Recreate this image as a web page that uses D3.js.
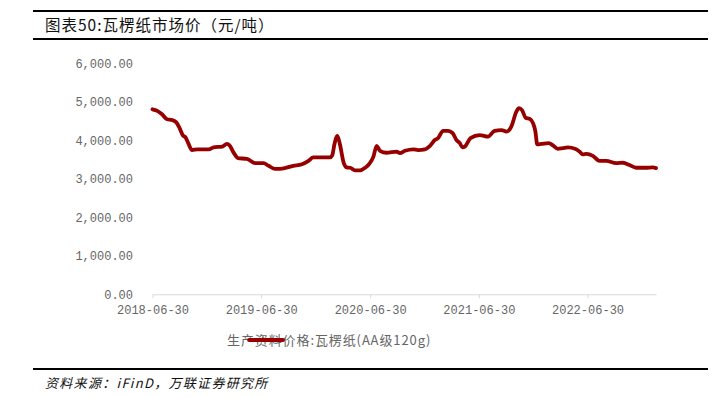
<!DOCTYPE html>
<html>
<head>
<meta charset="utf-8">
<script src="https://cdn.jsdelivr.net/npm/d3@7"></script>
<style>
  body { margin: 0; background: #fff; }
  svg { display: block; }
</style>
</head>
<body>
<svg width="720" height="397"></svg>
<script>
// 瓦楞纸(AA级120g) 价格，元/吨
var dates = [
  "2018-06-30","2018-07-16","2018-08-01","2018-08-18","2018-09-04","2018-09-18","2018-09-29","2018-10-10",
  "2018-10-19","2018-10-28","2018-11-10","2018-11-27","2019-01-05","2019-01-21","2019-02-19","2019-03-07",
  "2019-03-16","2019-03-29","2019-04-13","2019-05-13","2019-06-10","2019-07-08","2019-07-25","2019-08-16",
  "2019-09-02","2019-10-16","2019-11-14","2019-12-06","2019-12-22","2020-02-16","2020-02-24","2020-03-02",
  "2020-03-12","2020-03-21","2020-04-01","2020-04-12","2020-04-24","2020-05-10","2020-05-27","2020-06-13",
  "2020-06-29","2020-07-11","2020-07-22","2020-08-02","2020-08-24","2020-09-27","2020-10-08","2020-10-25",
  "2020-11-22","2020-12-08","2020-12-31","2021-01-17","2021-02-02","2021-02-13","2021-03-02","2021-03-19",
  "2021-04-03","2021-04-16","2021-04-27","2021-05-06","2021-05-14","2021-06-02","2021-07-03","2021-07-31",
  "2021-08-22","2021-09-14","2021-10-01","2021-10-17","2021-11-03","2021-11-12","2021-11-22","2021-12-04",
  "2021-12-18","2021-12-29","2022-01-06","2022-01-12","2022-01-26","2022-02-20","2022-03-06","2022-03-22",
  "2022-04-08","2022-04-25","2022-05-21","2022-06-03","2022-06-14","2022-06-26","2022-07-18","2022-08-09",
  "2022-09-01","2022-10-04","2022-10-27","2022-11-18","2022-12-10","2023-01-13","2023-02-04","2023-02-15"
];
var prices = [
  4810,4770,4680,4550,4530,4470,4320,4130,
  4080,3930,3750,3770,3770,3820,3840,3910,
  3870,3690,3540,3520,3410,3410,3340,3260,
  3260,3340,3380,3470,3560,3560,3620,3900,
  4120,3880,3450,3300,3290,3220,3220,3290,
  3410,3580,3860,3730,3680,3710,3670,3730,
  3770,3750,3770,3860,4010,4060,4250,4250,
  4190,4010,3930,3820,3840,4060,4140,4100,
  4250,4270,4230,4360,4750,4840,4790,4590,
  4560,4450,4230,3900,3910,3930,3870,3780,
  3800,3820,3780,3710,3640,3650,3600,3470,
  3470,3410,3420,3360,3290,3290,3300,3280
];
var xTickLabels = ["2018-06-30","2019-06-30","2020-06-30","2021-06-30","2022-06-30"];
var yTicks = [0, 1000, 2000, 3000, 4000, 5000, 6000];

var title = "图表50:瓦楞纸市场价（元/吨）";
var seriesName = "生产资料价格:瓦楞纸(AA级120g)";
var source = "资料来源：iFinD，万联证券研究所";

var parse = d3.timeParse("%Y-%m-%d");
var data = dates.map(function(d, i) { return { date: parse(d), value: prices[i] }; });

var svg = d3.select("svg");
var red = "#960000";
var cjk = "'Noto Sans CJK SC', sans-serif";
var mono = "'Liberation Mono', monospace";

var x = d3.scaleTime()
  .domain([parse("2018-06-30"), parse("2023-02-15")])
  .range([152.5, 656]);

var y = d3.scaleLinear()
  .domain([0, 6000])
  .range([294.3, 63.5]);

// header and footer rules
[11, 39, 369].forEach(function(yy) {
  svg.append("line")
    .attr("x1", 33).attr("x2", 708)
    .attr("y1", yy).attr("y2", yy)
    .attr("stroke", "#000").attr("stroke-width", 2);
});

svg.append("text")
  .attr("x", 45).attr("y", 31)
  .attr("font-family", cjk).attr("font-size", 15.5)
  .attr("letter-spacing", 1)
  .attr("fill", "#111")
  .text(title);

svg.append("text")
  .attr("x", 45).attr("y", 388)
  .attr("font-family", cjk).attr("font-size", 13)
  .attr("font-style", "italic")
  .attr("letter-spacing", 1.3)
  .attr("fill", "#111")
  .text(source);

// x axis
var xAxis = d3.axisBottom(x)
  .tickValues(xTickLabels.map(parse))
  .tickFormat(d3.timeFormat("%Y-%m-%d"))
  .tickSize(4)
  .tickSizeOuter(0);

var gx = svg.append("g")
  .attr("transform", "translate(0," + y(0) + ")")
  .call(xAxis);
gx.select(".domain").attr("stroke", "#d9d9d9");
gx.selectAll(".tick line").attr("stroke", "#d9d9d9");
gx.selectAll(".tick text")
  .attr("dy", "1.05em")
  .attr("fill", "#666")
  .attr("font-family", mono).attr("font-size", 12);

// y axis, labels only
var gy = svg.append("g")
  .attr("transform", "translate(137,0)")
  .call(d3.axisLeft(y).tickValues(yTicks).tickFormat(d3.format(",.2f")).tickSize(0));
gy.select(".domain").remove();
gy.selectAll(".tick text")
  .attr("x", -4)
  .attr("fill", "#666")
  .attr("font-family", mono).attr("font-size", 12);

// series
var line = d3.line()
  .x(function(d) { return x(d.date); })
  .y(function(d) { return y(d.value); })
  .curve(d3.curveMonotoneX);

svg.append("path")
  .datum(data)
  .attr("d", line)
  .attr("fill", "none")
  .attr("stroke", red)
  .attr("stroke-width", 3.8)
  .attr("stroke-linejoin", "round")
  .attr("stroke-linecap", "round");

// legend (line sits over part of the text, as in the original)
svg.append("text")
  .attr("x", 227).attr("y", 345)
  .attr("font-family", cjk).attr("font-size", 13)
  .attr("letter-spacing", 0.9)
  .attr("fill", "#666")
  .text(seriesName);

svg.append("line")
  .attr("x1", 249).attr("x2", 283)
  .attr("y1", 340).attr("y2", 340)
  .attr("stroke", red).attr("stroke-width", 3.8)
  .attr("stroke-linecap", "round");
</script>
</body>
</html>
